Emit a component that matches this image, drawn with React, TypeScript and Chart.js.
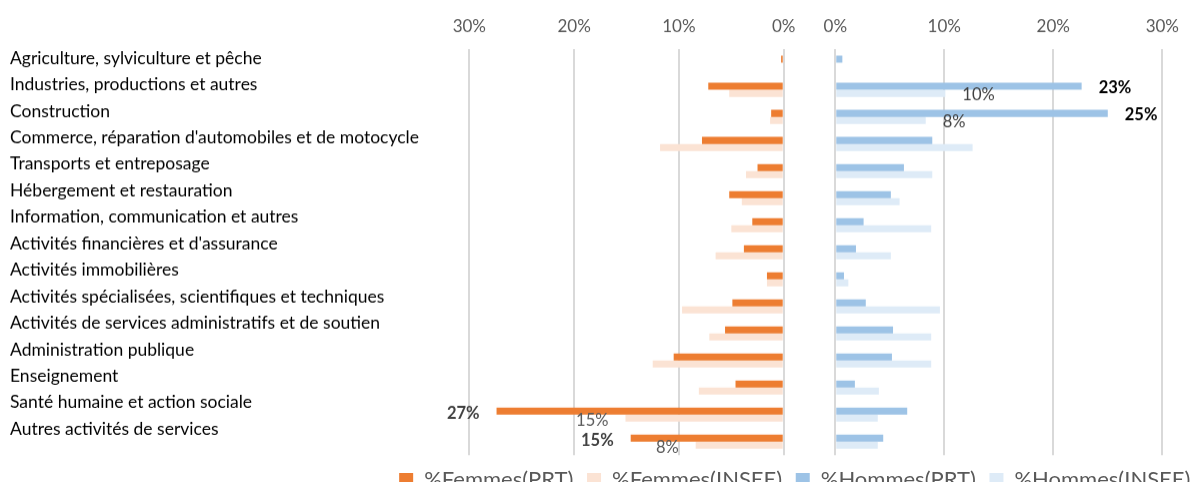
import React, { useEffect, useRef } from "react";
import { Chart, registerables } from "chart.js";

Chart.register(...registerables);

const categories = [
  "Agriculture, sylviculture et pêche",
  "Industries, productions et autres",
  "Construction",
  "Commerce, réparation d'automobiles et de motocycle",
  "Transports et entreposage",
  "Hébergement et restauration",
  "Information, communication et autres",
  "Activités financières et d'assurance",
  "Activités immobilières",
  "Activités spécialisées, scientifiques et techniques",
  "Activités de services administratifs et de soutien",
  "Administration publique",
  "Enseignement",
  "Santé humaine et action sociale",
  "Autres activités de services",
];

const femmesPRT = [0.25, 7.2, 1.2, 7.8, 2.5, 5.2, 3.0, 3.8, 1.6, 4.9, 5.6, 10.5, 4.6, 27.4, 14.6];
const femmesINSEE = [0, 5.2, 1.3, 11.8, 3.6, 4.0, 5.0, 6.5, 1.6, 9.7, 7.1, 12.5, 8.1, 15.1, 8.4];
const hommesPRT = [0.65, 22.6, 25.0, 8.9, 6.3, 5.1, 2.6, 1.9, 0.8, 2.8, 5.3, 5.2, 1.8, 6.6, 4.4];
const hommesINSEE = [0, 10.1, 8.3, 12.6, 8.9, 5.9, 8.8, 5.1, 1.2, 9.6, 8.8, 8.8, 4.0, 3.9, 3.9];

const seriesNames = ["%Femmes(PRT)", "%Femmes(INSEE)", "%Hommes(PRT)", "%Hommes(INSEE)"];
const axisTicks = [0, 10, 20, 30];

// indices of bars that carry a value label, per series
const labelledFemmesPRT = [13, 14];
const labelledFemmesINSEE = [13, 14];
const labelledHommesPRT = [1, 2];
const labelledHommesINSEE = [1, 2];

const FONT = "Lato";

const labelStyles = [
  { indices: labelledFemmesPRT, color: "#404040", weight: "bold", side: "left" },
  { indices: labelledFemmesINSEE, color: "#595959", weight: "normal", side: "left" },
  { indices: labelledHommesPRT, color: "#000000", weight: "bold", side: "right" },
  { indices: labelledHommesINSEE, color: "#404040", weight: "normal", side: "right" },
];

const valueLabelPlugin = {
  id: "valueLabels",
  afterDatasetsDraw(chart: any) {
    const ctx = chart.ctx;
    ctx.save();
    chart.data.datasets.forEach((ds: any, di: number) => {
      const st = labelStyles[di];
      const meta = chart.getDatasetMeta(di);
      st.indices.forEach((i: number) => {
        const el = meta.data[i];
        if (!el) return;
        const text = Math.round(ds.data[i]) + "%";
        ctx.font = `${st.weight} 16.5px ${FONT}`;
        ctx.fillStyle = st.color;
        ctx.textBaseline = "middle";
        if (st.side === "left") {
          ctx.textAlign = "right";
          ctx.fillText(text, el.x - 17, el.y + 2);
        } else {
          ctx.textAlign = "left";
          ctx.fillText(text, el.x + 17, el.y + 2);
        }
      });
    });
    ctx.restore();
  },
};

export default function App() {
  const canvasRef = useRef<HTMLCanvasElement | null>(null);

  useEffect(() => {
    if (!canvasRef.current) return;
    const pctTicks = (axis: any) => {
      axis.ticks = axisTicks.map((v) => ({ value: v }));
    };
    const chart = new Chart(canvasRef.current, {
      type: "bar",
      data: {
        labels: categories,
        datasets: [
          { label: seriesNames[0], data: femmesPRT, backgroundColor: "#ED7D31", xAxisID: "xf", stack: "prt" },
          { label: seriesNames[1], data: femmesINSEE, backgroundColor: "#FBE3D4", xAxisID: "xf", stack: "insee" },
          { label: seriesNames[2], data: hommesPRT, backgroundColor: "#9DC3E6", xAxisID: "xm", stack: "prt" },
          { label: seriesNames[3], data: hommesINSEE, backgroundColor: "#DEEBF7", xAxisID: "xm", stack: "insee" },
        ],
      },
      options: {
        indexAxis: "y",
        animation: false,
        responsive: true,
        maintainAspectRatio: false,
        layout: { padding: { left: 10, right: 0, top: 0, bottom: 0 } },
        datasets: { bar: { categoryPercentage: 0.52, barPercentage: 1 } },
        scales: {
          y: {
            type: "category",
            display: false,
            offset: true,
          },
          yl: {
            type: "linear",
            position: "left",
            reverse: true,
            offset: false,
            min: -0.34,
            max: 14.988,
            afterBuildTicks: (axis: any) => {
              axis.ticks = categories.map((_, i) => ({ value: i }));
            },
            afterFit: (s: any) => {
              s.width = 459.3;
            },
            grid: { display: false, drawTicks: false },
            border: { display: false },
            ticks: {
              autoSkip: false,
              crossAlign: "far",
              padding: 0,
              color: "#000000",
              font: { family: FONT, size: 17.5 },
              callback: (v: any) => categories[v] ?? "",
            },
          },
          yr: {
            type: "linear",
            position: "right",
            offset: false,
            afterFit: (s: any) => {
              s.width = 41.7;
            },
            grid: { display: false, drawTicks: false },
            border: { display: false },
            ticks: { display: false },
          },
          xf: {
            type: "linear",
            position: "top",
            reverse: true,
            min: -36.12,
            max: 30,
            weight: 0,
            afterBuildTicks: pctTicks,
            afterFit: (s: any) => {
              s.height = 0;
            },
            grid: { color: "#D9D9D9", lineWidth: 2, drawTicks: false },
            border: { display: false },
            ticks: {
              mirror: true,
              padding: -32.3,
              color: "#595959",
              font: { family: FONT, size: 17 },
              callback: (v: any) => v + "%",
            },
          },
          xm: {
            type: "linear",
            position: "top",
            min: -33.57,
            max: 30,
            weight: 1,
            afterBuildTicks: pctTicks,
            afterFit: (s: any) => {
              s.height = 49.1;
            },
            grid: { color: "#D9D9D9", lineWidth: 2, drawTicks: false },
            border: { display: false },
            ticks: {
              padding: 12,
              color: "#595959",
              font: { family: FONT, size: 17 },
              callback: (v: any) => v + "%",
            },
          },
        },
        plugins: {
          legend: {
            position: "bottom",
            align: "end",
            labels: {
              boxWidth: 14,
              boxHeight: 14,
              padding: 13.6,
              color: "#595959",
              font: { family: FONT, size: 22 },
            },
          },
          tooltip: { enabled: false },
        },
      },
      plugins: [valueLabelPlugin],
    } as any);
    return () => chart.destroy();
  }, []);

  return (
    <div style={{ position: "absolute", left: 0, top: 0, width: 1197, height: 482, overflow: "hidden" }}>
      <div style={{ position: "relative", width: 1204, height: 499.9 }}>
        <canvas ref={canvasRef} />
      </div>
    </div>
  );
}
